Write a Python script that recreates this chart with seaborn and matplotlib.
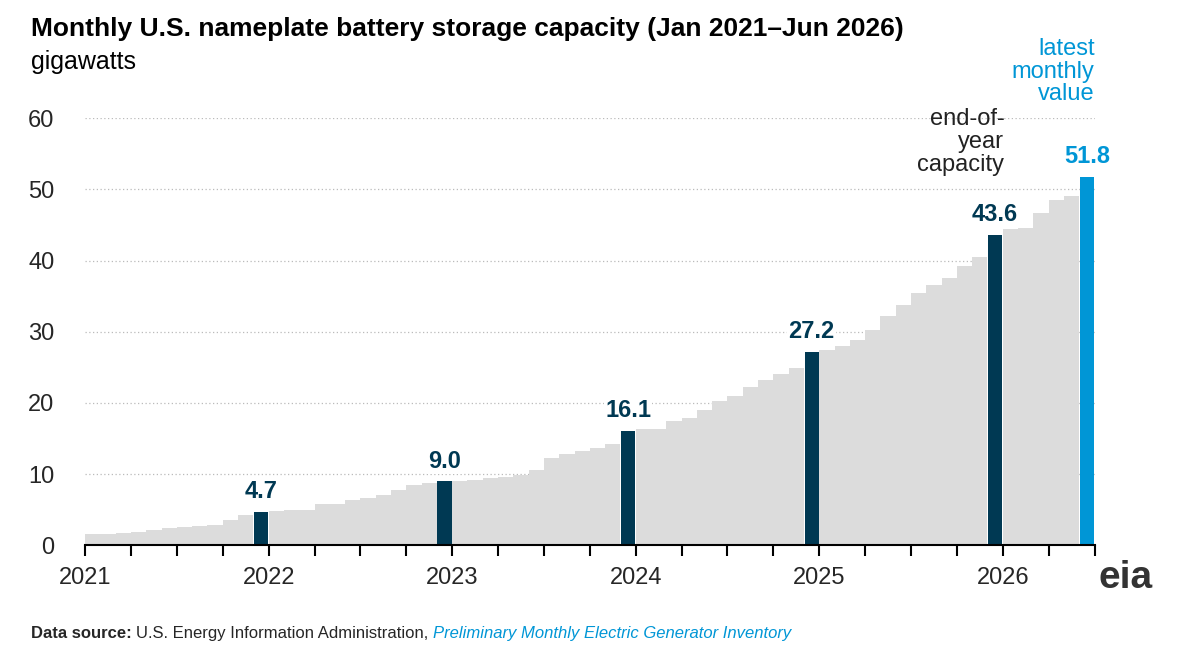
import pandas as pd
import seaborn as sns
import matplotlib.pyplot as plt

sns.set_theme(style="white")
plt.rcParams["font.family"] = ["Liberation Sans", "DejaVu Sans"]

YEARS = ["2021", "2022", "2023", "2024", "2025", "2026"]
CAPACITY = [
    # 2021
    1.6, 1.6, 1.7, 1.9, 2.2, 2.4, 2.6, 2.7, 2.9, 3.5, 4.2, 4.7,
    # 2022
    4.8, 4.9, 5.0, 5.8, 5.8, 6.3, 6.7, 7.1, 7.8, 8.5, 8.7, 9.0,
    # 2023
    9.0, 9.2, 9.4, 9.6, 9.9, 10.6, 12.3, 12.8, 13.3, 13.6, 14.2, 16.1,
    # 2024
    16.4, 16.4, 17.5, 17.9, 19.0, 20.3, 21.0, 22.3, 23.2, 24.0, 24.9, 27.2,
    # 2025
    27.5, 28.0, 28.9, 30.3, 32.2, 33.8, 35.5, 36.6, 37.6, 39.2, 40.5, 43.6,
    # 2026
    44.4, 44.6, 46.7, 48.5, 49.1, 51.8,
]

GRAY, NAVY, BLUE = "#dcdcdc", "#003953", "#0096d6"

df = pd.DataFrame({"month": range(len(CAPACITY)), "gw": CAPACITY})
kind = []
for i in df.month:
    if i == len(CAPACITY) - 1:
        kind.append("latest")
    elif i % 12 == 11:
        kind.append("eoy")
    else:
        kind.append("month")
df["kind"] = kind

fig = plt.figure(figsize=(11.82, 6.53), dpi=100)
ax = fig.add_axes([0.072, 0.165, 0.854, 0.654])

sns.barplot(data=df, x="month", y="gw", hue="kind",
            palette={"month": GRAY, "eoy": NAVY, "latest": BLUE},
            width=1.0, dodge=False, native_scale=True, ax=ax, saturation=1,
            linewidth=0, legend=False)
# coloured bars are a little narrower than the grey steps
gray_rgb = tuple(int(GRAY[k:k + 2], 16) / 255 for k in (1, 3, 5))
for p in ax.patches:
    if tuple(round(c, 3) for c in p.get_facecolor()[:3]) != tuple(round(c, 3) for c in gray_rgb):
        p.set_x(p.get_x() + 0.04)
        p.set_width(p.get_width() - 0.08)

ax.set_xlim(-0.5, len(CAPACITY) - 0.5)
ax.set_ylim(0, 60)
ax.set_yticks(range(0, 61, 10))
ax.yaxis.grid(True, color="#bbbbbb", linestyle=(0, (1, 2)), linewidth=0.9)
ax.set_axisbelow(True)
for s in ["top", "right", "left"]:
    ax.spines[s].set_visible(False)
ax.spines["bottom"].set_color("black")
ax.spines["bottom"].set_linewidth(1.5)

qs = list(range(0, len(CAPACITY) + 1, 3))
ax.set_xticks([q - 0.5 for q in qs])
ax.set_xticklabels([YEARS[q // 12] if q % 12 == 0 and q // 12 < len(YEARS) else "" for q in qs])
ax.tick_params(axis="x", direction="out", length=8, width=1.5, color="black",
               labelsize=17, pad=8, bottom=True)
ax.tick_params(axis="y", length=0, labelsize=17, pad=22)
ax.set_xlabel("")
ax.set_ylabel("")

for i, v in zip(df.month, df.gw):
    if i % 12 == 11 or i == len(CAPACITY) - 1:
        col = BLUE if i == len(CAPACITY) - 1 else NAVY
        ax.text(i, v + 1.2, f"{v:.1f}", ha="center", va="bottom", fontsize=17,
                fontweight="bold", color=col, clip_on=False,
                bbox=dict(facecolor="white", edgecolor="none", pad=1))

ax.text(59.6, 51.9, "end-of-\nyear\ncapacity", ha="right", va="bottom", fontsize=17,
        color="#222222", linespacing=1.05)
ax.text(65.5, 61.8, "latest\nmonthly\nvalue", ha="right", va="bottom", fontsize=17,
        color=BLUE, linespacing=1.05, clip_on=False)

fig.text(0.026, 0.955, "Monthly U.S. nameplate battery storage capacity (Jan 2021\u2013Jun 2026)",
         fontsize=19, fontweight="bold", color="black", va="center")
fig.text(0.026, 0.905, "gigawatts", fontsize=18, color="black", va="center")
t1 = fig.text(0.026, 0.03, "Data source: ", fontsize=12, fontweight="bold", va="center")
t2 = fig.text(0, 0, "U.S. Energy Information Administration, ", fontsize=12, va="center",
              transform=None)
fig.canvas.draw()
bb = t1.get_window_extent()
t2.set_position((bb.x1, bb.y0 + bb.height / 2))
fig.canvas.draw()
bb2 = t2.get_window_extent()
fig.text(bb2.x1, bb.y0 + bb.height / 2, "Preliminary Monthly Electric Generator Inventory",
         fontsize=12, style="italic", color=BLUE, va="center", transform=None)
fig.text(0.975, 0.115, "eia", fontsize=28, fontweight="bold", color="#333333",
         ha="right", va="center")

fig.savefig("out.png", dpi=100)
